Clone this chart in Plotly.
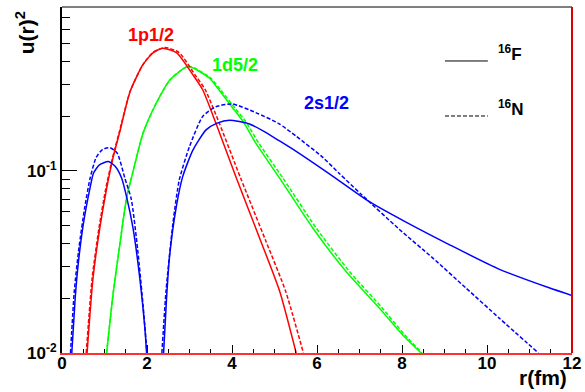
import plotly.graph_objects as go

# ---------------- data ----------------
# 1p1/2
p12_F_r = [0.59, 0.73, 0.89, 1.05, 1.20, 1.36, 1.60, 1.90, 2.14, 2.37, 2.70, 3.08, 3.31, 3.62, 4.10, 4.68, 5.12, 5.51]
p12_F_u = [0.010, 0.0258, 0.0486, 0.080, 0.118, 0.164, 0.272, 0.382, 0.445, 0.472, 0.445, 0.337, 0.279, 0.183, 0.0917, 0.041, 0.0219, 0.010]
p12_N_r = [0.57, 0.71, 0.87, 1.03, 1.19, 1.35, 1.60, 1.90, 2.14, 2.42, 2.75, 3.13, 3.37, 3.70, 4.20, 4.80, 5.26, 5.68]
p12_N_u = [0.010, 0.0258, 0.0486, 0.080, 0.118, 0.164, 0.272, 0.382, 0.447, 0.476, 0.448, 0.337, 0.279, 0.183, 0.0917, 0.041, 0.0219, 0.010]

# 1d5/2
d52_F_r = [1.05, 1.20, 1.36, 1.52, 1.67, 1.91, 2.22, 2.54, 2.97, 3.47, 3.70, 4.02, 4.26, 4.56, 5.12, 5.90, 6.68, 7.46, 8.01, 8.45]
d52_F_u = [0.010, 0.0209, 0.0394, 0.0711, 0.099, 0.162, 0.236, 0.316, 0.374, 0.323, 0.277, 0.221, 0.187, 0.142, 0.0912, 0.0486, 0.0281, 0.0177, 0.0126, 0.010]
d52_N_r = [1.05, 1.20, 1.36, 1.52, 1.67, 1.91, 2.22, 2.54, 2.98, 3.50, 3.74, 4.07, 4.32, 4.63, 5.20, 5.98, 6.76, 7.53, 8.06, 8.47]
d52_N_u = [0.010, 0.0209, 0.0394, 0.0711, 0.099, 0.162, 0.236, 0.316, 0.376, 0.323, 0.277, 0.221, 0.187, 0.142, 0.0912, 0.0486, 0.0281, 0.0177, 0.0126, 0.010]

# 2s1/2 (two lobes, node near r = 2.2 fm)
s12_F_r1 = [0.23, 0.31, 0.38, 0.50, 0.66, 0.74, 0.88, 1.09, 1.25, 1.40, 1.52, 1.67, 1.83, 1.95, 1.99]
s12_F_u1 = [0.010, 0.020, 0.0306, 0.0507, 0.0807, 0.097, 0.108, 0.1125, 0.106, 0.0917, 0.072, 0.0486, 0.0258, 0.0137, 0.010]
s12_F_r2 = [2.39, 2.46, 2.53, 2.69, 2.84, 3.08, 3.39, 3.65, 3.94, 4.41, 4.73, 5.10, 5.51, 6.30, 7.22, 8.05, 9.11, 10.28, 11.46, 12.0]
s12_F_u2 = [0.010, 0.020, 0.0338, 0.0637, 0.093, 0.130, 0.168, 0.183, 0.190, 0.181, 0.166, 0.147, 0.128, 0.096, 0.0680, 0.0530, 0.0394, 0.0289, 0.0228, 0.0207]
s12_N_r1 = [0.20, 0.29, 0.40, 0.53, 0.66, 0.80, 0.95, 1.13, 1.30, 1.48, 1.63, 1.78, 1.91, 2.00]
s12_N_u1 = [0.010, 0.022, 0.038, 0.062, 0.091, 0.118, 0.131, 0.134, 0.125, 0.091, 0.070, 0.037, 0.018, 0.010]
s12_N_r2 = [2.35, 2.45, 2.61, 2.76, 3.00, 3.31, 3.62, 4.01, 4.56, 5.10, 5.51, 6.13, 6.52, 7.05, 7.94, 8.72, 9.50, 10.28, 11.21]
s12_N_u2 = [0.010, 0.0222, 0.0516, 0.0893, 0.136, 0.199, 0.225, 0.233, 0.209, 0.182, 0.155, 0.119, 0.097, 0.074, 0.0477, 0.0333, 0.0228, 0.0156, 0.010]

x_tick_vals = [0, 2, 4, 6, 8, 10, 12]
y_tick_vals = [0.01, 0.1]
y_tick_text = ["10<sup>-2</sup>", "10<sup>-1</sup>"]
y_minor_vals = [0.02, 0.03, 0.04, 0.05, 0.06, 0.07, 0.08, 0.09, 0.2, 0.3, 0.4, 0.5, 0.6, 0.7]

curve_labels = ["1p1/2", "1d5/2", "2s1/2"]
legend_labels = ["<sup>16</sup>F", "<sup>16</sup>N"]

RED, GREEN, BLUE = "#ff0000", "#00ff00", "#0000ff"
DASH = "4px,2px"
FONT = "Liberation Sans, Arial, sans-serif"

fig = go.Figure()

def add(x, y, color, dash):
    fig.add_trace(go.Scatter(x=x, y=y, mode="lines", line_shape="spline",
                             line=dict(color=color, width=1.5, dash=dash, smoothing=0.6),
                             showlegend=False, hoverinfo="skip"))

add(d52_F_r, d52_F_u, GREEN, "solid")
add(d52_N_r, d52_N_u, GREEN, DASH)
add(p12_F_r, p12_F_u, RED, "solid")
add(p12_N_r, p12_N_u, RED, DASH)
add(s12_F_r1, s12_F_u1, BLUE, "solid")
add(s12_F_r2, s12_F_u2, BLUE, "solid")
add(s12_N_r1, s12_N_u1, BLUE, DASH)
add(s12_N_r2, s12_N_u2, BLUE, DASH)

fig.update_layout(
    width=585, height=392,
    margin=dict(l=62, r=13, t=7, b=39, autoexpand=False),
    paper_bgcolor="white", plot_bgcolor="white",
    showlegend=False,
    font=dict(family=FONT, color="black"),
)

fig.update_xaxes(
    range=[0, 12], showgrid=False, zeroline=False, automargin=False,
    showline=True, linecolor="#ff3030", linewidth=2,
    tickmode="array", tickvals=x_tick_vals,
    ticks="inside", ticklen=8, tickwidth=1, tickcolor="black",
    ticklabelstandoff=-6,
    tickfont=dict(size=17, family=FONT, weight="bold", color="black"),
    minor=dict(dtick=0.5, tick0=0, ticks="inside", ticklen=4, tickwidth=1, tickcolor="black"),
)
fig.update_yaxes(
    type="log", range=[-2, -0.1], showgrid=False, zeroline=False, automargin=False,
    showline=True, linecolor="black", linewidth=2,
    tickmode="array", tickvals=y_tick_vals, ticktext=y_tick_text,
    ticks="inside", ticklen=15, tickwidth=1, tickcolor="black",
    tickfont=dict(size=17, family=FONT, weight="bold", color="black"),
    minor=dict(tickmode="array", tickvals=y_minor_vals, ticks="inside", ticklen=8,
               tickwidth=1, tickcolor="black"),
)

# frame: top black, right red
fig.add_shape(type="line", xref="paper", yref="paper", x0=0, x1=1, y0=1, y1=1,
              line=dict(color="black", width=1))
fig.add_shape(type="line", xref="paper", yref="paper", x0=1, x1=1, y0=0, y1=1,
              line=dict(color="#dd0000", width=2))

# legend (manual, ROOT style)
fig.add_shape(type="line", xref="paper", yref="paper", x0=0.751, x1=0.835, y0=0.844, y1=0.844,
              line=dict(color="black", width=1))
fig.add_shape(type="line", xref="paper", yref="paper", x0=0.751, x1=0.835, y0=0.685, y1=0.685,
              line=dict(color="black", width=1, dash="4px,2px"))
for lab, yp in zip(legend_labels, [0.829, 0.671]):
    fig.add_annotation(text=lab, xref="paper", yref="paper", x=0.851, y=yp,
                       xanchor="left", yanchor="bottom", showarrow=False,
                       font=dict(size=17, family=FONT, weight="bold", color="black"))

# curve labels
for lab, col, xp, yp in zip(curve_labels, [RED, GREEN, BLUE],
                            [0.1745, 0.339, 0.519], [0.919, 0.832, 0.722]):
    fig.add_annotation(text=lab, xref="paper", yref="paper", x=xp, y=yp,
                       xanchor="center", yanchor="middle", showarrow=False,
                       font=dict(size=18, family=FONT, weight="bold", color=col))

# axis titles
fig.add_annotation(text="r(fm)", xref="paper", yref="paper", x=0.995, y=-0.072,
                   xanchor="right", yanchor="middle", showarrow=False,
                   font=dict(size=21, family=FONT, weight="bold", color="black"))
fig.add_annotation(text="u(r)<sup>2</sup>", xref="paper", yref="paper", x=-0.072, y=0.925,
                   xanchor="center", yanchor="middle", showarrow=False, textangle=-90,
                   font=dict(size=21, family=FONT, weight="bold", color="black"))

fig.write_html("out.html", config={"displayModeBar": False},
               post_script="document.body.style.margin='0px';")
